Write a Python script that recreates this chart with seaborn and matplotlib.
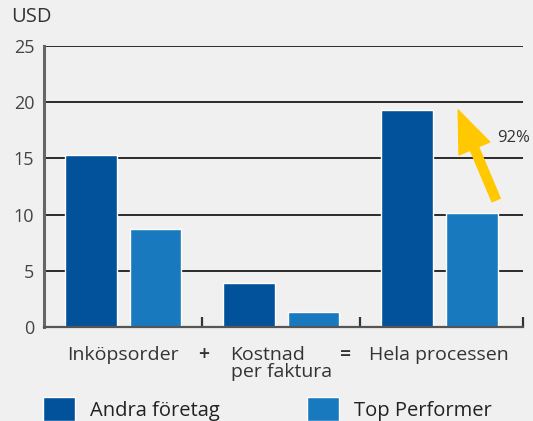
import matplotlib
matplotlib.use("Agg")
import matplotlib.pyplot as plt
import matplotlib.transforms as mtransforms
import seaborn as sns
import pandas as pd

categories = ["Inköpsorder", "Kostnad\nper faktura", "Hela processen"]
series_names = ["Andra företag", "Top Performer"]
andra = [15.3, 3.9, 19.3]
top = [8.7, 1.3, 10.1]
yticks = [0, 5, 10, 15, 20, 25]
operators = ["+", "="]
arrow_label = "92%"

colors = {"Andra företag": "#01529a", "Top Performer": "#1879bf"}
bg = "#f0f0f0"

df = pd.DataFrame({
    "kategori": categories * 2,
    "serie": [series_names[0]] * 3 + [series_names[1]] * 3,
    "usd": andra + top,
})

sns.set_style("white")
plt.rcParams["font.family"] = ["Open Sans", "DejaVu Sans"]

fig = plt.figure(figsize=(5.33, 4.21), dpi=100, facecolor=bg)
ax = fig.add_axes([44 / 533, 1 - 327 / 421, (523 - 44) / 533, (327 - 46) / 421])
ax.set_facecolor(bg)

sns.barplot(data=df, x="kategori", y="usd", hue="serie", palette=colors,
            width=0.82, gap=0.2, ax=ax, legend=True, saturation=1)

ax.set_xlim(-0.5, 2.53)
ax.set_ylim(0, 25)
ax.set_yticks(yticks)
ax.set_yticklabels([str(v) for v in yticks], fontsize=13, color="#444444")
ax.tick_params(axis="y", length=0, pad=7)
for v in yticks[1:]:
    ax.axhline(v, color="#2a2a2a", lw=1.4, zorder=0)

ax.set_xlabel("")
ax.set_ylabel("")
ax.set_xticks(range(len(categories)))
ax.set_xticklabels(categories, fontsize=14, color="#333333", linespacing=0.9)
labs = ax.get_xticklabels()
labs[1].set_multialignment("left")
labs[1].set_transform(labs[1].get_transform() +
                      mtransforms.ScaledTranslation(-0.2, 0, fig.dpi_scale_trans))
ax.tick_params(axis="x", length=0, pad=14)
ax.set_xticks([0.5, 1.5, 2.53], minor=True)
ax.tick_params(axis="x", which="minor", bottom=True, direction="in", length=7,
               width=1.6, color="#333333")

op_pos = [0.51, 1.41]
for x, op in zip(op_pos, operators):
    ax.text(x, -0.065, op, transform=ax.get_xaxis_transform(), ha="center", va="top",
            fontsize=14, color="#333333", fontweight="semibold")

for s in ["top", "right"]:
    ax.spines[s].set_visible(False)
ax.spines["left"].set_color("#666666")
ax.spines["left"].set_linewidth(2.2)
ax.spines["bottom"].set_color("#555555")
ax.spines["bottom"].set_linewidth(1.6)

fig.text(11 / 533, 1 - 17 / 421, "USD", fontsize=14.5, color="#333333", va="center", ha="left")

ax.annotate("", xy=(2.12, 19.3), xytext=(2.36, 11.3),
            arrowprops=dict(arrowstyle="simple,head_length=1.5,head_width=1.2,tail_width=0.32",
                            color="#ffc800", shrinkA=0, shrinkB=0, mutation_scale=20))
ax.text(2.47, 16.8, arrow_label, fontsize=12, color="#333333", ha="center", va="center")

handles, labels = ax.get_legend_handles_labels()
ax.get_legend().remove()
fig.legend(handles, labels, ncol=2, loc="center left", bbox_to_anchor=(43 / 533, 1 - 409 / 421),
           frameon=False, fontsize=14.5, handlelength=1.6, handleheight=1.4,
           handletextpad=0.75, columnspacing=4.3, borderpad=0, borderaxespad=0,
           labelcolor="#222222")

fig.savefig("out.png", dpi=100, facecolor=bg)
